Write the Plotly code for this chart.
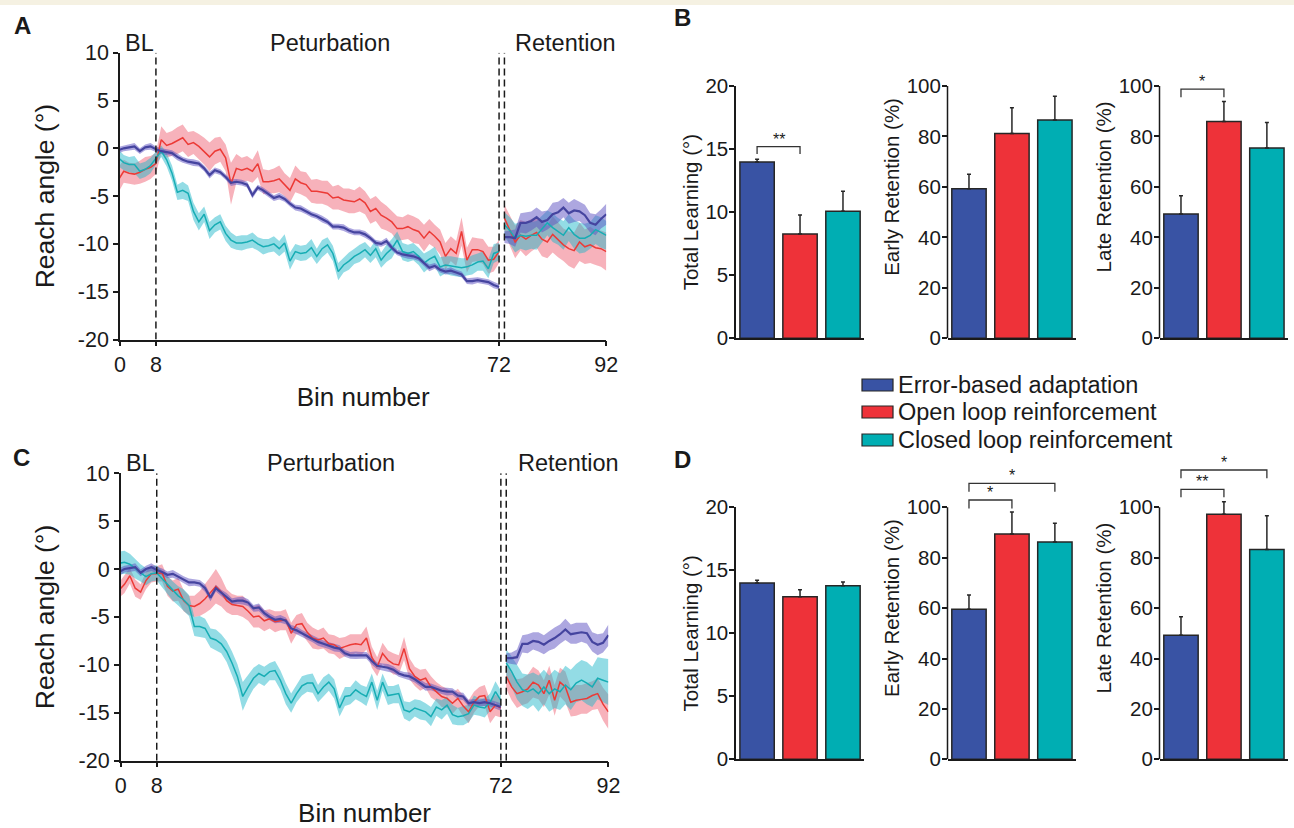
import plotly.graph_objects as go

W, H = 1294, 828
FONT = "Liberation Sans, Arial, Helvetica, sans-serif"
INK = "#1a1a1a"

# ---------------- data: time courses (bins 1-72 = baseline+perturbation, 73-92 = retention)
bins_main = list(range(1, 73))
bins_ret = list(range(73, 93))
phase_bounds = [8, 72, 73]

A_blue = [-0.2, 0.0, 0.1, 0.2, -0.3, 0.1, 0.2, -0.1,
          -0.3, -0.4, -0.5, -0.9, -1.2, -1.4, -1.5, -1.6,
          -2.1, -2.8, -2.3, -2.5, -3.0, -3.6, -3.5, -3.6,
          -3.8, -4.9, -4.1, -4.4, -4.8, -5.2, -5.0, -5.3,
          -5.8, -6.2, -6.3, -6.6, -6.9, -7.1, -7.4, -7.7,
          -8.2, -8.2, -8.3, -8.6, -8.8, -8.8, -9.0, -9.4,
          -9.9, -10.0, -9.7, -10.4, -10.9, -11.1, -11.2, -11.3,
          -11.5, -12.0, -12.5, -12.3, -12.7, -12.9, -12.8, -13.0,
          -13.2, -13.9, -13.9, -13.8, -13.9, -14.0, -14.3, -14.5]
A_blue_se = [0.35, 0.3, 0.3, 0.35, 0.3, 0.3, 0.35, 0.3,
             0.3, 0.3, 0.3, 0.35, 0.3, 0.3, 0.35, 0.3,
             0.3, 0.35, 0.3, 0.3, 0.3, 0.35, 0.3, 0.3,
             0.3, 0.35, 0.3, 0.3, 0.3, 0.3, 0.35, 0.3,
             0.3, 0.3, 0.35, 0.3, 0.3, 0.3, 0.35, 0.3,
             0.3, 0.3, 0.35, 0.3, 0.3, 0.3, 0.35, 0.3,
             0.3, 0.3, 0.35, 0.3, 0.3, 0.3, 0.35, 0.3,
             0.3, 0.3, 0.35, 0.3, 0.3, 0.3, 0.35, 0.3,
             0.3, 0.3, 0.35, 0.3, 0.3, 0.3, 0.35, 0.3]
A_red = [-3.3, -2.4, -2.6, -2.7, -2.5, -2.2, -2.0, -1.6,
         0.9, 0.3, 0.5, 0.8, 1.1, 0.4, 0.6, 0.2,
         -0.3, -0.9, -0.3, -0.1, -1.0, -3.7, -2.1, -2.3,
         -2.1, -2.4, -1.6, -3.5, -3.5, -3.4, -3.2, -3.8,
         -4.4, -3.2, -3.6, -3.8, -4.5, -4.5, -4.6, -4.7,
         -5.2, -5.1, -5.4, -5.5, -5.6, -5.3, -5.7, -6.6,
         -6.3, -7.0, -7.3, -7.7, -8.4, -8.4, -8.2, -8.5,
         -8.7, -9.4, -8.7, -9.2, -9.8, -11.3, -10.5, -11.0,
         -8.7, -11.7, -10.6, -10.6, -10.8, -11.7, -11.6, -10.8]
A_red_se = [1.3, 1.2, 1.1, 1.1, 1.2, 1.3, 1.2, 1.1,
            1.4, 1.3, 1.3, 1.4, 1.4, 1.3, 1.2, 1.3,
            1.4, 1.5, 1.4, 1.3, 1.4, 2.2, 1.5, 1.3,
            1.3, 1.2, 1.4, 1.3, 1.2, 1.3, 1.4, 1.2,
            1.3, 1.4, 1.2, 1.3, 1.2, 1.3, 1.2, 1.3,
            1.2, 1.3, 1.2, 1.3, 1.2, 1.3, 1.2, 1.3,
            1.3, 1.4, 1.3, 1.2, 1.3, 1.2, 1.3, 1.4,
            1.3, 1.4, 1.3, 1.2, 1.3, 1.4, 1.3, 1.3,
            1.5, 1.3, 1.3, 1.2, 1.3, 1.4, 1.3, 1.2]
A_teal = [-1.0, -1.5, -1.7, -1.7, -2.4, -2.2, -1.8, -1.0,
          -0.3, -1.2, -2.6, -4.6, -4.4, -4.7, -6.6, -7.7,
          -6.9, -8.6, -8.0, -7.7, -8.9, -9.6, -9.9, -9.9,
          -9.8, -9.6, -10.0, -10.3, -10.2, -10.0, -10.5, -9.9,
          -11.8, -10.8, -11.0, -10.9, -10.4, -11.3, -10.5, -10.1,
          -11.0, -12.9, -12.2, -11.8, -11.3, -11.0, -10.6, -11.2,
          -10.5, -11.7, -11.0, -10.5, -9.6, -10.8, -11.0, -10.8,
          -11.3, -12.0, -11.6, -11.3, -12.4, -12.2, -12.3, -12.4,
          -12.5, -12.4, -12.2, -11.9, -11.8, -12.6, -11.0, -10.8]
A_teal_se = [0.9, 0.8, 0.8, 0.9, 0.8, 0.8, 0.8, 0.7,
             0.6, 0.7, 0.8, 0.8, 0.9, 0.8, 0.9, 0.9,
             0.8, 0.9, 0.8, 0.8, 0.8, 0.8, 0.7, 0.8,
             0.7, 0.8, 0.7, 0.8, 0.7, 0.8, 0.8, 0.9,
             0.9, 0.8, 0.8, 0.8, 0.9, 0.8, 0.9, 0.8,
             0.8, 0.9, 0.8, 0.9, 0.8, 0.9, 0.8, 0.8,
             0.9, 0.8, 0.9, 1.0, 0.9, 0.9, 0.9, 0.9,
             0.9, 1.0, 0.9, 1.0, 1.0, 0.9, 1.0, 1.0,
             1.0, 0.9, 1.0, 0.9, 1.0, 1.0, 1.0, 0.9]
A_blue_ret = [-9.3, -9.3, -9.4, -7.8, -7.8, -7.6, -7.2, -7.7, -7.5, -6.9,
              -6.7, -6.2, -6.8, -6.5, -6.6, -7.0, -7.8, -8.0, -7.4, -6.9]
A_blue_ret_se = [0.6, 0.7, 0.9, 1.0, 1.1, 1.0, 1.0, 1.1, 1.0, 1.2,
                 1.1, 1.0, 1.1, 1.2, 1.0, 1.1, 1.0, 1.1, 1.0, 1.1]
A_red_ret = [-7.3, -8.6, -9.8, -9.1, -9.5, -9.1, -8.8, -9.5, -9.8, -9.0,
             -9.6, -10.1, -10.5, -10.7, -9.8, -10.3, -10.1, -10.4, -10.5, -10.8]
A_red_ret_se = [1.4, 1.6, 1.7, 1.6, 1.8, 1.7, 1.6, 1.8, 1.7, 1.9,
                1.8, 1.7, 1.8, 1.9, 2.0, 1.8, 1.9, 1.8, 1.9, 2.0]
A_teal_ret = [-8.0, -8.6, -9.4, -9.1, -9.2, -9.1, -9.1, -8.5, -7.8, -8.3,
              -8.7, -9.1, -8.3, -9.0, -9.4, -9.4, -9.1, -8.5, -8.8, -9.1]
A_teal_ret_se = [1.3, 1.4, 1.5, 1.4, 1.5, 1.4, 1.5, 1.4, 1.3, 1.5,
                 1.4, 1.5, 1.4, 1.5, 1.6, 1.5, 1.4, 1.5, 1.6, 1.5]

C_blue = [-0.3, 0.0, 0.1, 0.2, -0.4, 0.0, 0.2, -0.1,
          -0.3, -0.6, -0.5, -0.8, -1.1, -1.4, -1.4, -1.5,
          -2.0, -3.0, -2.0, -2.5, -2.9, -3.4, -3.3, -3.3,
          -3.5, -4.1, -4.0, -4.6, -5.0, -5.3, -5.2, -5.4,
          -6.2, -6.4, -6.7, -7.0, -7.3, -7.6, -7.8, -8.0,
          -8.2, -8.3, -8.8, -9.0, -9.0, -9.0, -9.0, -9.6,
          -10.1, -10.2, -10.3, -10.5, -10.9, -11.1, -11.2, -11.5,
          -11.9, -12.3, -12.3, -12.5, -12.7, -12.8, -12.8, -13.2,
          -13.3, -14.0, -13.9, -14.0, -13.9, -14.0, -14.2, -14.4]
C_blue_se = [0.4, 0.35, 0.35, 0.4, 0.35, 0.35, 0.4, 0.35,
             0.35, 0.35, 0.4, 0.35, 0.35, 0.4, 0.35, 0.35,
             0.4, 0.35, 0.35, 0.35, 0.4, 0.35, 0.35, 0.4,
             0.35, 0.35, 0.4, 0.35, 0.35, 0.35, 0.4, 0.35,
             0.35, 0.4, 0.35, 0.35, 0.35, 0.4, 0.35, 0.35,
             0.4, 0.35, 0.35, 0.35, 0.4, 0.35, 0.35, 0.4,
             0.35, 0.35, 0.4, 0.35, 0.35, 0.35, 0.4, 0.35,
             0.35, 0.4, 0.35, 0.35, 0.35, 0.4, 0.35, 0.35,
             0.4, 0.35, 0.35, 0.35, 0.4, 0.35, 0.35, 0.4]
C_red = [-2.2, -1.6, -0.7, -2.0, -2.4, -1.2, -0.5, -0.5,
         -0.4, -1.8, -2.3, -2.1, -3.3, -3.8, -3.9, -3.6,
         -3.1, -2.5, -1.8, -2.4, -3.3, -3.7, -3.8, -3.9,
         -4.4, -5.0, -4.9, -5.4, -5.2, -5.5, -5.4, -5.3,
         -6.7, -5.8, -5.7, -6.6, -7.2, -7.4, -7.2, -7.8,
         -7.9, -8.3, -8.1, -7.9, -7.8, -7.9, -7.2, -9.2,
         -10.2, -8.8, -9.5, -9.9, -10.0, -8.3, -10.4, -11.2,
         -11.6, -11.4, -12.3, -12.8, -13.3, -13.5, -14.0, -13.5,
         -14.3, -14.9, -13.9, -13.3, -13.2, -14.9, -14.2, -14.5]
C_red_se = [0.8, 0.9, 0.8, 0.9, 0.8, 0.9, 0.9, 0.8,
            0.9, 1.0, 1.1, 1.2, 1.1, 1.0, 1.1, 1.3,
            1.5, 1.7, 1.8, 1.5, 1.2, 1.1, 1.0, 1.1,
            1.0, 1.1, 1.2, 1.1, 1.0, 1.1, 1.0, 1.1,
            1.1, 1.0, 1.1, 1.0, 1.1, 1.0, 1.1, 1.0,
            1.0, 1.1, 1.0, 1.1, 1.0, 1.1, 1.2, 1.1,
            1.0, 1.1, 1.0, 1.1, 1.0, 1.2, 1.1, 1.0,
            1.1, 1.0, 1.1, 1.0, 1.1, 1.0, 1.1, 1.0,
            1.1, 1.2, 1.1, 1.0, 1.1, 1.2, 1.1, 1.0]
C_teal = [0.6, 0.7, 0.5, 0.0, -0.4, -0.8, -0.5, -0.4,
          -1.0, -1.7, -2.3, -2.8, -3.2, -3.8, -6.0, -6.0,
          -6.2, -7.2, -7.4, -7.8, -8.6, -9.8, -11.2, -13.3,
          -12.3, -11.4, -10.9, -11.2, -10.7, -10.6, -11.6, -13.0,
          -14.0, -13.0, -12.2, -11.9, -11.9, -13.0, -12.3, -11.8,
          -12.5, -14.5, -13.3, -13.2, -12.6, -13.0, -13.3, -11.8,
          -13.7, -11.8, -13.2, -13.1, -13.0, -14.7, -14.9, -14.5,
          -14.7, -14.9, -15.4, -14.4, -14.7, -14.2, -15.2, -15.4,
          -15.3, -15.1, -14.2, -14.4, -14.5, -13.9, -12.8, -13.7]
C_teal_se = [1.2, 1.2, 1.1, 1.0, 0.9, 0.9, 0.8, 0.8,
             0.8, 0.9, 1.0, 1.0, 1.1, 1.1, 1.0, 1.1,
             1.0, 1.0, 1.1, 1.0, 1.1, 1.2, 1.3, 1.5,
             1.2, 1.1, 1.0, 1.0, 0.9, 1.0, 1.0, 1.1,
             1.0, 0.9, 1.0, 0.9, 1.0, 0.9, 1.0, 0.9,
             1.0, 0.9, 1.0, 0.9, 1.0, 0.9, 1.0, 0.9,
             1.0, 0.9, 1.0, 0.9, 1.0, 0.9, 1.0, 0.9,
             1.0, 0.9, 1.0, 0.9, 1.0, 0.9, 1.0, 0.9,
             1.0, 0.9, 1.0, 0.9, 1.0, 0.9, 1.1, 1.0]
C_blue_ret = [-9.3, -9.3, -9.2, -7.8, -7.8, -7.5, -7.6, -7.9, -7.5, -7.2,
              -6.8, -6.3, -6.8, -6.7, -6.6, -6.7, -7.6, -7.9, -7.7, -6.9]
C_blue_ret_se = [0.5, 0.6, 0.8, 0.9, 1.0, 0.9, 1.0, 1.0, 1.0, 1.1,
                 1.0, 1.1, 1.0, 1.1, 1.0, 1.1, 1.0, 1.1, 1.0, 1.1]
C_red_ret = [-11.2, -12.3, -13.0, -12.8, -12.5, -11.8, -12.1, -13.0, -11.6, -13.7,
             -11.8, -12.3, -13.9, -13.7, -13.6, -13.5, -13.2, -13.0, -14.1, -14.9]
C_red_ret_se = [1.3, 1.4, 1.5, 1.4, 1.5, 1.6, 1.5, 1.4, 1.5, 1.6,
                1.5, 1.6, 1.5, 1.6, 1.5, 1.6, 1.5, 1.6, 1.7, 1.8]
C_teal_ret = [-9.8, -10.7, -11.8, -12.6, -12.8, -12.5, -13.0, -12.3, -13.0, -12.5,
              -12.8, -12.1, -12.6, -11.9, -11.6, -11.9, -12.3, -11.4, -11.6, -11.8]
C_teal_ret_se = [1.4, 1.6, 1.8, 1.7, 1.8, 1.7, 1.9, 1.8, 1.9, 2.0,
                 1.9, 2.0, 2.1, 2.0, 2.1, 2.2, 2.1, 2.2, 2.3, 2.4]

# ---------------- data: bar panels
groups = ["Error-based adaptation", "Open loop reinforcement", "Closed loop reinforcement"]
B_total, B_total_err = [13.98, 8.27, 10.07], [0.21, 1.51, 1.58]
B_early, B_early_err = [59.3, 81.2, 86.5], [5.7, 10.2, 9.4]
B_late, B_late_err = [49.3, 85.9, 75.4], [7.2, 8.0, 10.1]
D_total, D_total_err = [14.0, 12.9, 13.78], [0.21, 0.56, 0.29]
D_early, D_early_err = [59.5, 89.4, 86.2], [5.7, 8.7, 7.5]
D_late, D_late_err = [49.2, 97.2, 83.3], [7.4, 5.0, 13.3]
bar_titles = ["Total Learning (°)", "Early Retention (%)", "Late Retention (%)"]
# significance: (panel index, group i, group j, bracket level, leg end, label)
sig_B = [(0, 0, 1, 15.2, 14.6, "**"), (2, 0, 1, 98.8, 95.5, "*")]
sig_D = [(1, 0, 1, 102.9, 99.5, "*"), (1, 0, 2, 109.5, 106.2, "*"),
         (2, 0, 1, 107.1, 104.0, "**"), (2, 0, 2, 114.8, 111.5, "*")]

# ---------------- styles
LINE_COL = {"blue": "#45449f", "red": "#ec3a36", "teal": "#17adb4"}
BAND_COL = {"blue": "rgba(92,80,194,0.50)", "red": "rgba(236,72,92,0.42)",
            "teal": "rgba(30,182,200,0.48)"}
LINE_W = {"blue": 2.2, "red": 1.5, "teal": 1.5}
BAR_COL = ["#3953a4", "#ee3239", "#00aeb3"]


def pxx(p):
    return p / W


def pxy(p):
    return 1 - p / H


fig = go.Figure()


def add_series(x, m, se, key, xa, ya):
    up = [a + b for a, b in zip(m, se)]
    lo = [a - b for a, b in zip(m, se)]
    fig.add_trace(go.Scatter(x=list(x) + list(x)[::-1], y=up + lo[::-1], fill="toself",
                             fillcolor=BAND_COL[key], line=dict(width=0), mode="lines",
                             hoverinfo="skip", showlegend=False, xaxis=xa, yaxis=ya))
    return (x, m, key, xa, ya)


lines = []
for xa, ya, series in [
    ("x", "y", [(A_red, A_red_se, A_red_ret, A_red_ret_se, "red"),
                (A_teal, A_teal_se, A_teal_ret, A_teal_ret_se, "teal"),
                (A_blue, A_blue_se, A_blue_ret, A_blue_ret_se, "blue")]),
    ("x2", "y2", [(C_red, C_red_se, C_red_ret, C_red_ret_se, "red"),
                  (C_teal, C_teal_se, C_teal_ret, C_teal_ret_se, "teal"),
                  (C_blue, C_blue_se, C_blue_ret, C_blue_ret_se, "blue")])]:
    for m, se, mr, ser, key in series:
        lines.append(add_series(bins_main, m, se, key, xa, ya))
        lines.append(add_series(bins_ret, mr, ser, key, xa, ya))
for x, m, key, xa, ya in lines:
    fig.add_trace(go.Scatter(x=x, y=m, mode="lines",
                             line=dict(color=LINE_COL[key], width=LINE_W[key]),
                             showlegend=False, xaxis=xa, yaxis=ya))

# ---------------- bars
bar_sets = [[(B_total, B_total_err), (B_early, B_early_err), (B_late, B_late_err)],
            [(D_total, D_total_err), (D_early, D_early_err), (D_late, D_late_err)]]
for r, row in enumerate(bar_sets):
    for c, (vals, errs) in enumerate(row):
        n = 3 + r * 3 + c
        fig.add_trace(go.Bar(x=[0, 1, 2], y=vals, width=0.8,
                             marker=dict(color=BAR_COL, line=dict(color="#262626", width=1.5)),
                             error_y=dict(type="data", array=errs, arrayminus=[0, 0, 0],
                                          symmetric=False, thickness=1.5, width=2, color="#262626"),
                             showlegend=False, xaxis=f"x{n}", yaxis=f"y{n}"))

# ---------------- layout
tickfont_l = dict(family=FONT, size=21.5, color=INK)
tickfont_b = dict(family=FONT, size=20.5, color=INK)
common = dict(showline=True, linecolor=INK, linewidth=1.5, ticks="outside", tickwidth=1.5,
              tickcolor=INK, showgrid=False, zeroline=False)

yt = [-20, -15, -10, -5, 0, 5, 10]
layout = dict(
    width=W, height=H, margin=dict(l=0, r=0, t=0, b=0), template="none",
    paper_bgcolor="white", plot_bgcolor="rgba(0,0,0,0)", showlegend=False,
    font=dict(family=FONT, color=INK),
)
line_panels = [("", 120.0, 606.3, 52.7, 339.5), ("2", 120.7, 608.4, 473.2, 760.7)]
for sfx, x0, x1, ytop, ybot in line_panels:
    layout["xaxis" + sfx] = dict(common, domain=[pxx(x0), pxx(x1)], range=[1.3, 92],
                                 anchor="y" + sfx, ticklen=5, tickvals=[1.3, 8, 72, 92],
                                 ticktext=["0", "8", "72", "92"], tickfont=tickfont_l,
                                 title=dict(text="Bin number", font=dict(family=FONT, size=26, color=INK),
                                            standoff=12))
    layout["yaxis" + sfx] = dict(common, domain=[pxy(ybot), pxy(ytop)], range=[-20, 10],
                                 anchor="x" + sfx, ticklen=5, tickvals=yt,
                                 ticktext=[str(v) for v in yt], tickfont=tickfont_l,
                                 title=dict(text="Reach angle (°)", font=dict(family=FONT, size=26.5, color=INK),
                                            standoff=16))

bar_x = [(735.6, 863.6), (947.5, 1075.5), (1159.5, 1287.5)]
bar_rows = [(338.3, 86.0), (759.3, 507.3)]
shapes = []
for r, (y0px, y20px) in enumerate(bar_rows):
    for c, (bx0, bx1) in enumerate(bar_x):
        n = 3 + r * 3 + c
        top_val = 20 if c == 0 else 120
        full_val = 20 if c == 0 else 100
        top_px = y0px - (y0px - y20px) * top_val / full_val
        tv = [0, 5, 10, 15, 20] if c == 0 else [0, 20, 40, 60, 80, 100]
        layout[f"xaxis{n}"] = dict(common, domain=[pxx(bx0), pxx(bx1)], range=[-0.5, 2.48],
                                   anchor=f"y{n}", ticks="", showticklabels=False)
        layout[f"yaxis{n}"] = dict(common, domain=[pxy(y0px), pxy(top_px)], range=[0, top_val],
                                   anchor=f"x{n}", ticklen=4.5, tickvals=tv, tickfont=tickfont_b,
                                   ticklabelstandoff=-3,
                                   showline=(c == 0),
                                   title=dict(text=bar_titles[c], font=dict(family=FONT, size=20.5, color=INK),
                                              standoff=1))
        if c != 0:
            shapes.append(dict(type="line", xref=f"x{n} domain", yref=f"y{n}", x0=0, x1=0,
                               y0=0, y1=full_val, line=dict(color=INK, width=1.5)))

annotations = []
for r, sigs in enumerate([sig_B, sig_D]):
    for c, i, j, lvl, leg, lab in sigs:
        n = 3 + r * 3 + c
        shapes.append(dict(type="path", xref=f"x{n}", yref=f"y{n}",
                           path=f"M {i},{leg} L {i},{lvl} L {j},{lvl} L {j},{leg}",
                           line=dict(color="#333", width=1.3)))
        annotations.append(dict(xref=f"x{n}", yref=f"y{n}", x=(i + j) / 2, y=lvl, text=lab,
                                showarrow=False, xanchor="center", yanchor="bottom", yshift=-3,
                                font=dict(family=FONT, size=16, color=INK)))

# phase dashed lines
for sfx in ["", "2"]:
    for b in phase_bounds:
        shapes.append(dict(type="line", xref="x" + sfx, yref="y" + sfx, x0=b, x1=b, y0=-20, y1=10,
                           line=dict(color=INK, width=1.5, dash="7px,4px")))

# phase labels
for sfx, ypx, labels in [("", 43, [(5.0, "BL"), (40.4, "Peturbation"), (84.4, "Retention")]),
                         ("2", 463, [(5.0, "BL"), (40.4, "Perturbation"), (84.6, "Retention")])]:
    for xv, t in labels:
        annotations.append(dict(xref="x" + sfx, yref="paper", x=xv, y=pxy(ypx), text=t,
                                showarrow=False, xanchor="center", yanchor="middle",
                                font=dict(family=FONT, size=23.5, color=INK)))

# panel letters
for t, xp, yp in [("A", 22, 25), ("B", 682, 18), ("C", 21, 457), ("D", 682, 459)]:
    annotations.append(dict(xref="paper", yref="paper", x=pxx(xp), y=pxy(yp), text=f"<b>{t}</b>",
                            showarrow=False, xanchor="center", yanchor="middle",
                            font=dict(family=FONT, size=24, color=INK)))

# manual legend
for k, (g, yc) in enumerate(zip(groups, [385, 412, 440])):
    shapes.append(dict(type="rect", xref="paper", yref="paper", x0=pxx(862), x1=pxx(893),
                       y0=pxy(yc + 6), y1=pxy(yc - 6), fillcolor=BAR_COL[k],
                       line=dict(color="#262626", width=1.2)))
    annotations.append(dict(xref="paper", yref="paper", x=pxx(896), y=pxy(yc), text=g,
                            xanchor="left", yanchor="middle", showarrow=False,
                            font=dict(family=FONT, size=23.5, color=INK)))

# top strip
shapes.append(dict(type="rect", xref="paper", yref="paper", x0=0, x1=1, y0=pxy(5), y1=1,
                   fillcolor="#f5f1e2", line=dict(width=0), layer="below"))

layout["shapes"] = shapes
layout["annotations"] = annotations
fig.update_layout(**layout)
fig.write_html("out.html")
